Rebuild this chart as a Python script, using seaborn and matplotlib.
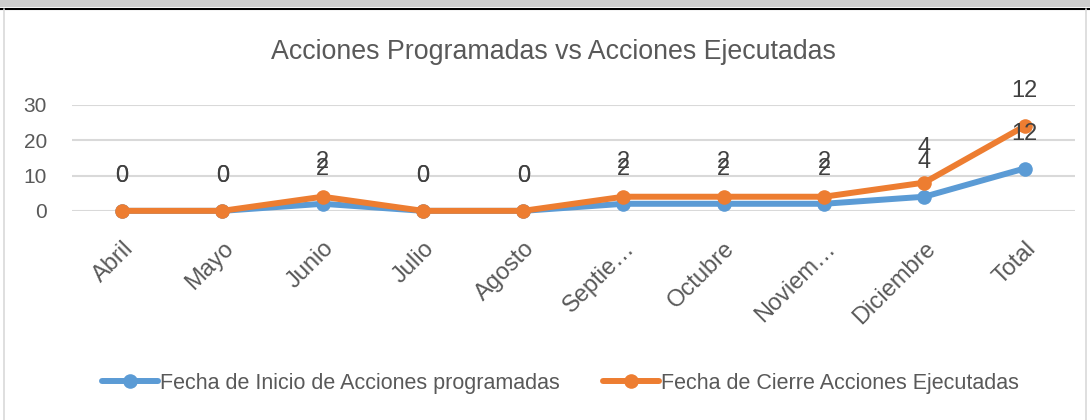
import matplotlib
matplotlib.use("Agg")
import matplotlib.pyplot as plt
import seaborn as sns
import pandas as pd
from matplotlib.patches import Rectangle
from matplotlib.lines import Line2D
import matplotlib.transforms as mtransforms

categories = ["Abril", "Mayo", "Junio", "Julio", "Agosto", "Septie…", "Octubre", "Noviem…", "Diciembre", "Total"]
programadas = [0, 0, 2, 0, 0, 2, 2, 2, 4, 12]
ejecutadas = [0, 0, 2, 0, 0, 2, 2, 2, 4, 12]
yticks = [0, 10, 20, 30]
title = "Acciones Programadas vs Acciones Ejecutadas"
name_prog = "Fecha de Inicio de Acciones programadas"
name_ejec = "Fecha de Cierre Acciones Ejecutadas"

BLUE = "#5B9BD5"
ORANGE = "#ED7D31"
TXT = "#595959"

sns.set_theme(style="white")
plt.rcParams["font.family"] = ["Liberation Sans", "DejaVu Sans"]

# stacked line chart: second series drawn on top of first
stacked = [a + b for a, b in zip(programadas, ejecutadas)]
df = pd.DataFrame({"cat": categories, "prog": programadas, "stack": stacked})
df["x"] = range(len(categories))

fig = plt.figure(figsize=(10.9, 4.2), dpi=100)
ax = fig.add_axes([0.066, 0.498, 0.92, 0.252])

for y in yticks:
    ax.axhline(y, color="#D9D9D9", lw=1.5, zorder=0)

sns.lineplot(data=df, x="x", y="prog", ax=ax, color=BLUE, lw=4.3, marker="o",
             markersize=10.5, markeredgewidth=0, zorder=3, clip_on=False)
sns.lineplot(data=df, x="x", y="stack", ax=ax, color=ORANGE, lw=4.3, marker="o",
             markersize=10.5, markeredgewidth=0, zorder=4, clip_on=False)

for i in range(len(categories)):
    ax.annotate(str(programadas[i]), (i, programadas[i]), xytext=(0, 25),
                textcoords="offset points", ha="center", va="center",
                fontsize=17, color="#404040", zorder=5, annotation_clip=False)
    ax.annotate(str(ejecutadas[i]), (i, stacked[i]), xytext=(0, 25),
                textcoords="offset points", ha="center", va="center",
                fontsize=17, color="#404040", zorder=5, annotation_clip=False)

ax.set_xlim(-0.5, len(categories) - 0.5)
ax.set_ylim(0, 30)
ax.set_yticks(yticks)
ax.set_yticklabels([str(v) for v in yticks], fontsize=15, color=TXT)
ax.set_xticks(range(len(categories)))
ax.set_xticklabels(categories, rotation=45, ha="right", rotation_mode="anchor",
                   fontsize=17, color=TXT)
shift = mtransforms.ScaledTranslation(3 / 100, 0, fig.dpi_scale_trans)
for lbl in ax.get_xticklabels():
    lbl.set_transform(lbl.get_transform() + shift)
ax.tick_params(axis="x", length=0, pad=19)
ax.tick_params(axis="y", length=0, pad=18)
ax.set_xlabel("")
ax.set_ylabel("")
for s in ax.spines.values():
    s.set_visible(False)

fig.text(0.508, 0.876, title, ha="center", va="center", fontsize=19.3, color=TXT)

handles = [Line2D([], [], color=BLUE, lw=4.3, marker="o", markersize=10.5, markeredgewidth=0),
           Line2D([], [], color=ORANGE, lw=4.3, marker="o", markersize=10.5, markeredgewidth=0)]
fig.legend(handles, [name_prog, name_ejec], loc="center", bbox_to_anchor=(0.514, 0.088),
           ncol=2, frameon=False, fontsize=15.5, handlelength=2.6, handletextpad=0.1,
           columnspacing=2.0, labelcolor=TXT)

# frame decorations
fig.patches.append(Rectangle((0, 1 - 7 / 420), 1, 7 / 420, transform=fig.transFigure,
                             facecolor="#CDCDCD", edgecolor="none", zorder=0))
fig.add_artist(Line2D([0, 1], [1 - 8.5 / 420] * 2, transform=fig.transFigure, color="black", lw=1.5))
fig.add_artist(Line2D([3.5 / 1090] * 2, [0, 1 - 9 / 420], transform=fig.transFigure, color="#D9D9D9", lw=1.2))
fig.add_artist(Line2D([1085.5 / 1090] * 2, [0, 1 - 9 / 420], transform=fig.transFigure, color="#D9D9D9", lw=1.2))

fig.savefig("out.png", dpi=100)
